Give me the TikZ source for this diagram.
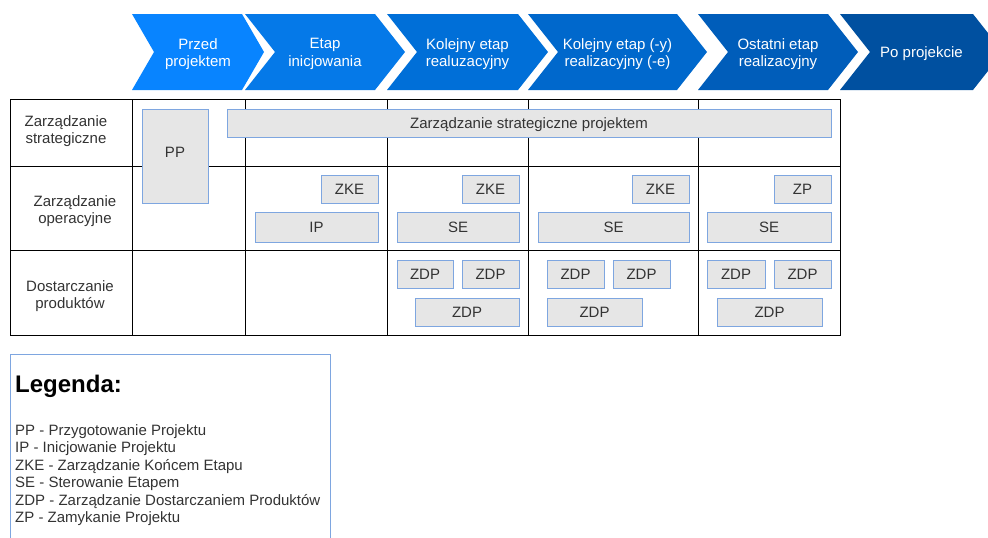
\documentclass[tikz,border=0pt]{standalone}
\usepackage{fontspec}
\setmainfont{Liberation Sans}
\usepackage{tikz}
\usetikzlibrary{positioning, calc}
\definecolor{phaseA}{RGB}{8,132,255}
\definecolor{phaseB}{RGB}{5,121,232}
\definecolor{phaseC}{RGB}{0,111,216}
\definecolor{phaseD}{RGB}{0,104,204}
\definecolor{phaseE}{RGB}{0,93,186}
\definecolor{phaseF}{RGB}{0,80,160}
\definecolor{boxline}{RGB}{126,166,224}
\definecolor{boxfill}{RGB}{230,230,230}
\definecolor{txtgray}{RGB}{51,51,51}
\begin{document}
\begin{tikzpicture}[x=1pt, y=-1pt, every node/.style={font=\fontsize{15}{17.5}\selectfont, text=txtgray}]
		\tikzstyle{box} = [draw=boxline, fill=boxfill, line width=0.9pt, inner sep=0pt, text height=10.7pt, text depth=0pt]
		\tikzstyle{rowlabel} = [align=center]
		\useasboundingbox (0,0) rectangle (988,538);
		% fazy
		\foreach \xl/\xr/\d/\col/\txt [count=\i] in {132/242/22/phaseA/{Przed\\projektem}, 245/375/30/phaseB/{Etap\\inicjowania}, 387/518/30/phaseC/{Kolejny etap\\realuzacyjny}, 528/677/30/phaseD/{Kolejny etap (-y)\\realizacyjny (-e)}, 698/828/30/phaseE/{Ostatni etap\\realizacyjny}, 840/973/30/phaseF/{Po projekcie}}{
			\fill[\col] (\xl,14) -- (\xr,14) -- ({\xr+\d},52) -- (\xr,90) -- (\xl,90) -- ({\xl+\d},52) -- cycle;
			\node[align=center, text=white] (ph\i) at ({(\xl+\xr+\d)/2},54) {\txt};
		}
		% tabela
		\draw[line width=0.9pt] (10,99) rectangle (840,335);
		\draw[line width=0.9pt] (10,166) -- (840,166); \draw[line width=0.9pt] (10,250) -- (840,250);
		\foreach \x in {132,245,387,528,698} \draw[line width=0.9pt] (\x,99) -- (\x,335);
		\node[rowlabel] (strat) at (66,131) {Zarządzanie\\strategiczne};
		\node[rowlabel] (oper) at (75,211) {Zarządzanie\\operacyjne};
		\node[rowlabel] (prod) at (70,296) {Dostarczanie\\produktów};
		% procesy
		\node[box, minimum width=66, minimum height=94, text depth=8pt] (pp) at (175,156) {PP};
		\node[box, minimum width=604, minimum height=28] (zsp) at (529,123) {Zarządzanie strategiczne projektem};
		\node[box, minimum width=57, minimum height=28] (zke1) at (349.5,189) {ZKE};
		\node[box, minimum width=123, minimum height=30] (ip) at (316.5,227) {IP};
		\node[box, minimum width=57, minimum height=28] (zke2) at (490.5,189) {ZKE};
		\node[box, minimum width=122, minimum height=30] (se1) at (458,227) {SE};
		\node[box, minimum width=56, minimum height=28] (zdp1) at (425,274) {ZDP};
		\node[box, minimum width=57, minimum height=28] (zdp2) at (490.5,274) {ZDP};
		\node[box, minimum width=104, minimum height=28] (zdp3) at (467,312) {ZDP};
		\node[box, minimum width=57, minimum height=28] (zke3) at (660.5,189) {ZKE};
		\node[box, minimum width=151, minimum height=30] (se2) at (613.5,227) {SE};
		\node[box, minimum width=57, minimum height=28] (zdp4) at (575.5,274) {ZDP};
		\node[box, minimum width=57, minimum height=28] (zdp5) at (641.5,274) {ZDP};
		\node[box, minimum width=95, minimum height=28] (zdp6) at (594.5,312) {ZDP};
		\node[box, minimum width=57, minimum height=28] (zp) at (802.5,189) {ZP};
		\node[box, minimum width=124, minimum height=30] (se3) at (769,227) {SE};
		\node[box, minimum width=58, minimum height=28] (zdp7) at (736,274) {ZDP};
		\node[box, minimum width=57, minimum height=28] (zdp8) at (802.5,274) {ZDP};
		\node[box, minimum width=105, minimum height=28] (zdp9) at (769.5,312) {ZDP};
		% legenda
		\draw[boxline, line width=0.9pt] (10,545) -- (10,354) -- (330,354) -- (330,545);
		\node[anchor=west, inner sep=0pt, text=black, font=\fontsize{24}{28}\selectfont\bfseries] (leg) at (15,386) {Legenda:};
		\node[anchor=north west, inner sep=0pt, align=left] (legitems) at (15,424) {PP - Przygotowanie Projektu\\IP - Inicjowanie Projektu\\ZKE - Zarządzanie Końcem Etapu\\SE - Sterowanie Etapem\\ZDP - Zarządzanie Dostarczaniem Produktów\\ZP - Zamykanie Projektu};
\end{tikzpicture}
\end{document}
